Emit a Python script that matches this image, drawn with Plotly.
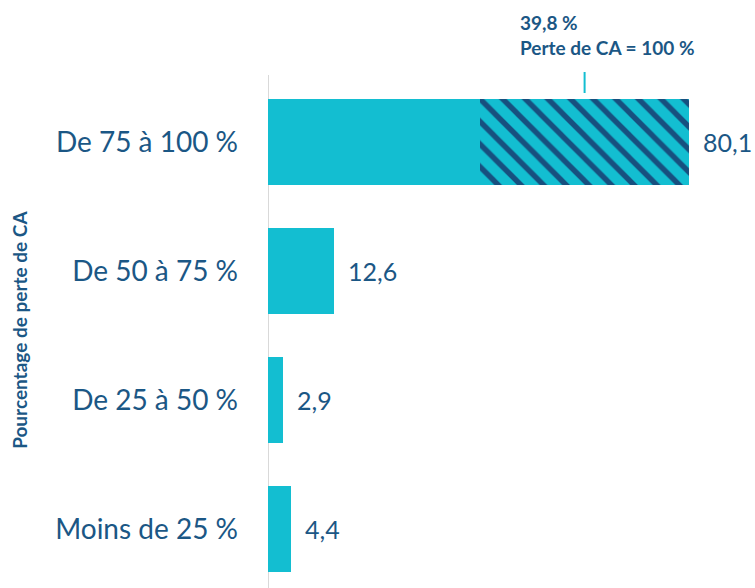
import plotly.graph_objects as go

categories = ["Moins de 25 %", "De 25 à 50 %", "De 50 à 75 %", "De 75 à 100 %"]
totals = [4.4, 2.9, 12.6, 80.1]
# part of the top bar with a 100 % loss of turnover (hatched)
full_loss = [0, 0, 0, 39.8]
solid = [round(t - f, 1) for t, f in zip(totals, full_loss)]
annot_lines = ["39,8 %", "Perte de CA = 100 %"]
y_title = "Pourcentage de perte de CA"

CYAN = "#13BED1"
NAVY = "#1B5785"
FONT = "Lato"

fig = go.Figure()
fig.add_trace(go.Bar(
    y=categories, x=solid, orientation="h",
    marker=dict(color=CYAN, line=dict(width=0)),
    hoverinfo="skip", showlegend=False,
))
fig.add_trace(go.Bar(
    y=categories, x=full_loss, orientation="h",
    marker=dict(color=CYAN, line=dict(width=0),
                pattern=dict(shape="\\", fgcolor="#17507F", bgcolor=CYAN,
                             size=16, solidity=0.34, fillmode="replace")),
    hoverinfo="skip", showlegend=False,
))

for c, t in zip(categories, totals):
    fig.add_annotation(x=t, y=c, xref="x", yref="y", text=f"{t:.1f}".replace(".", ","),
                       showarrow=False, xanchor="left", xshift=12,
                       font=dict(family=FONT, size=25, color=NAVY))

# vertical axis line
fig.add_shape(type="line", xref="x", yref="y", x0=0, x1=0, y0=-0.46, y1=3.519,
              line=dict(color="#D9D9D9", width=2), layer="below")

# tick + annotation over the hatched part
mid = solid[-1] + full_loss[-1] / 2
fig.add_shape(type="line", xref="x", yref="y", x0=mid, x1=mid, y0=3.38, y1=3.543,
              line=dict(color=CYAN, width=2))
fig.add_annotation(x=mid, y=4.03, xref="x", yref="y", xshift=-67,
                   text="<b>" + annot_lines[0] + "</b><br><b>" + annot_lines[1] + "</b>",
                   showarrow=False, xanchor="left", yanchor="top", align="left",
                   font=dict(family=FONT, size=19, color=NAVY))

fig.add_annotation(x=0, y=0.439, xref="paper", yref="paper", xshift=-248,
                   text="<b>" + y_title + "</b>", textangle=-90, showarrow=False,
                   xanchor="center", yanchor="middle",
                   font=dict(family=FONT, size=19, color=NAVY))

fig.update_layout(
    width=755, height=588,
    margin=dict(l=268, r=0, t=0, b=0),
    paper_bgcolor="white", plot_bgcolor="white",
    barmode="stack", bargap=0.333,
    xaxis=dict(range=[0, 92.6], visible=False, fixedrange=True),
    yaxis=dict(categoryorder="array", categoryarray=categories, automargin=False,
               range=[-0.457, 4.101], showline=False,
               showgrid=False, zeroline=False, ticks="", ticklabelstandoff=29,
               tickfont=dict(family=FONT, size=28, color=NAVY)),
)

fig.write_html("out.html", config={"displayModeBar": False},
               post_script="document.body.style.margin='0';document.body.style.overflow='hidden';")
